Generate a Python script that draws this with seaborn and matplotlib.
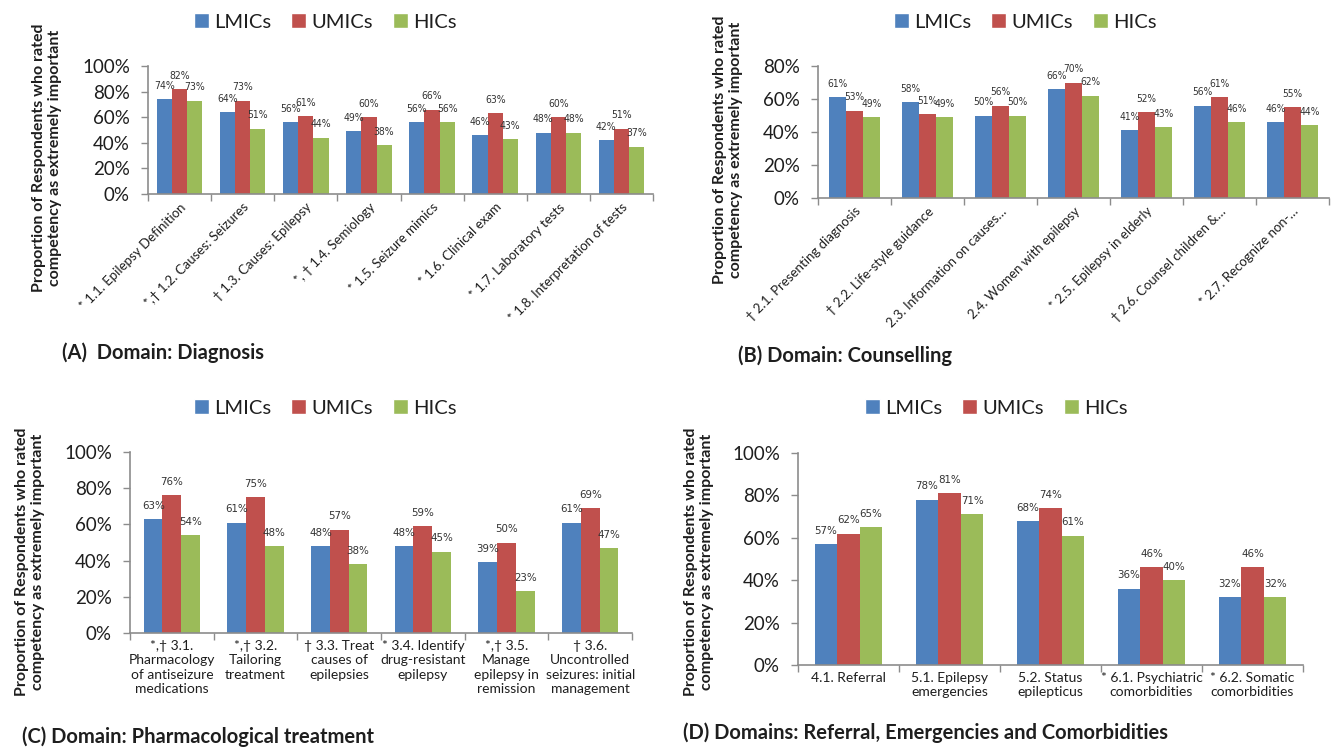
import matplotlib
matplotlib.use("Agg")
import matplotlib.pyplot as plt
from matplotlib.patches import Patch
from matplotlib.ticker import PercentFormatter, FixedLocator
import seaborn as sns
import pandas as pd
import numpy as np

sns.set_theme(style="white")
plt.rcParams["font.family"] = ["Lato", "DejaVu Sans"]

# ---- data -------------------------------------------------------------
groups = ["LMICs", "UMICs", "HICs"]
colors = ["#4F81BD", "#C0504D", "#9BBB59"]

diag_labels = ["* 1.1. Epilepsy Definition", "*,\u2020 1.2. Causes: Seizures",
               "\u2020 1.3. Causes: Epilepsy", "*, \u2020 1.4. Semiology",
               "* 1.5. Seizure mimics", "* 1.6. Clinical exam",
               "* 1.7. Laboratory tests", "* 1.8. Interpretation of tests"]
diag_lmic = [74, 64, 56, 49, 56, 46, 48, 42]
diag_umic = [82, 73, 61, 60, 66, 63, 60, 51]
diag_hic = [73, 51, 44, 38, 56, 43, 48, 37]

couns_labels = ["\u2020 2.1. Presenting diagnosis", "\u2020 2.2. Life-style guidance",
                "2.3. Information on causes\u2026", "2.4. Women with epilepsy",
                "* 2.5. Epilepsy in elderly", "\u2020 2.6. Counsel children &\u2026",
                "* 2.7. Recognize non-\u2026"]
couns_lmic = [61, 58, 50, 66, 41, 56, 46]
couns_umic = [53, 51, 56, 70, 52, 61, 55]
couns_hic = [49, 49, 50, 62, 43, 46, 44]

pharm_labels = ["*,\u2020 3.1.\nPharmacology\nof antiseizure\nmedications",
                "*,\u2020 3.2.\nTailoring\ntreatment",
                "\u2020 3.3. Treat\ncauses of\nepilepsies",
                "* 3.4. Identify\ndrug-resistant\nepilepsy",
                "*,\u2020 3.5.\nManage\nepilepsy in\nremission",
                "\u2020 3.6.\nUncontrolled\nseizures: initial\nmanagement"]
pharm_lmic = [63, 61, 48, 48, 39, 61]
pharm_umic = [76, 75, 57, 59, 50, 69]
pharm_hic = [54, 48, 38, 45, 23, 47]

ref_labels = ["4.1. Referral", "5.1. Epilepsy\nemergencies", "5.2. Status\nepilepticus",
              "* 6.1. Psychiatric\ncomorbidities", "* 6.2. Somatic\ncomorbidities"]
ref_lmic = [57, 78, 68, 36, 32]
ref_umic = [62, 81, 74, 46, 46]
ref_hic = [65, 71, 61, 40, 32]

ylabel_text = "Proportion of Respondents who rated\ncompetency as extremely important"

# ---- figure -----------------------------------------------------------
W, H = 1338, 747
fig = plt.figure(figsize=(W / 100, H / 100), dpi=100, facecolor="white")
AXIS_GREY = "#8C8C8C"
TEXT = "#1E1E1E"


def px_rect(left, right, bottom, top):
    return [left / W, 1 - bottom / H, (right - left) / W, (bottom - top) / H]


def panel(rect, labels, lmic, umic, hic, ymax, rotated, width,
          legend_xy, ylabel_xy, title, title_xy, cat_size, value_size):
    ax = fig.add_axes(px_rect(*rect))
    df = pd.DataFrame({
        "competency": labels * 3,
        "income": [g for g in groups for _ in labels],
        "share": np.array(lmic + umic + hic, dtype=float) / 100,
    })
    sns.barplot(data=df, x="competency", y="share", hue="income",
                hue_order=groups, palette=colors, saturation=1,
                width=width, errorbar=None, legend=False, linewidth=0, ax=ax)

    # percentage above every bar, in a condensed face
    for cont in ax.containers:
        vals = [b.get_height() for b in cont]
        ax.bar_label(cont, labels=[f"{round(v * 100):d}%" for v in vals],
                     padding=6, fontsize=value_size, color="#333333",
                     family="DejaVu Sans", fontstretch="condensed")

    n = len(labels)
    ax.set_xlim(-0.5, n - 0.5)
    ax.set_ylim(0, ymax)
    ax.yaxis.set_major_locator(FixedLocator(np.arange(0, ymax + 0.001, 0.2)))
    ax.yaxis.set_major_formatter(PercentFormatter(1.0, decimals=0))
    ax.set_xlabel("")
    ax.set_ylabel("")

    # category tick marks sit on the boundaries between groups
    ax.xaxis.set_minor_locator(FixedLocator(np.arange(-0.5, n, 1.0)))
    ax.tick_params(axis="x", which="major", length=0, pad=5, labelsize=cat_size,
                   labelcolor=TEXT)
    ax.tick_params(axis="x", which="minor", length=5, width=1, color=AXIS_GREY,
                   direction="out", bottom=True)
    ax.tick_params(axis="y", which="major", length=5, width=1, color=AXIS_GREY,
                   direction="out", left=True, labelsize=13.5, labelcolor=TEXT, pad=8)

    ax.set_xticks(range(n))
    if rotated:
        ax.set_xticklabels(labels, rotation=45, ha="right", rotation_mode="anchor")
    else:
        ax.set_xticklabels(labels, linespacing=1.25)

    for side in ("top", "right"):
        ax.spines[side].set_visible(False)
    for side in ("left", "bottom"):
        ax.spines[side].set_color(AXIS_GREY)
        ax.spines[side].set_linewidth(1.2)

    handles = [Patch(facecolor=c, label=g) for c, g in zip(colors, groups)]
    fig.legend(handles=handles, loc="center", ncol=3, frameon=False,
               bbox_to_anchor=(legend_xy[0] / W, 1 - legend_xy[1] / H),
               fontsize=14.5, handlelength=0.75, handleheight=0.75,
               handletextpad=0.25, columnspacing=1.0, labelcolor=TEXT)

    fig.text(ylabel_xy[0] / W, 1 - ylabel_xy[1] / H, ylabel_text, rotation=90,
             ha="center", va="center", multialignment="center",
             fontsize=11.5, fontweight="bold", color=TEXT, linespacing=1.15)

    fig.text(title_xy[0] / W, 1 - title_xy[1] / H, title, ha="left", va="center",
             fontsize=14.5, fontweight="bold", color=TEXT)
    return ax


panel((148, 653, 194, 66), diag_labels, diag_lmic, diag_umic, diag_hic,
      1.0, True, 0.72, (325, 22), (47, 158), "(A)  Domain: Diagnosis", (62, 353), 9.5, 7.5)
panel((818, 1329, 198, 66), couns_labels, couns_lmic, couns_umic, couns_hic,
      0.8, True, 0.71, (1025, 22), (728, 150), "(B) Domain: Counselling", (738, 356), 9.5, 7.3)
panel((130, 632, 633, 452), pharm_labels, pharm_lmic, pharm_umic, pharm_hic,
      1.0, False, 0.67, (325, 408), (30, 562), "(C) Domain: Pharmacological treatment",
      (22, 737), 10, 8.2)
panel((798, 1303, 665, 453), ref_labels, ref_lmic, ref_umic, ref_hic,
      1.0, False, 0.67, (996, 408), (699, 562),
      "(D) Domains: Referral, Emergencies and Comorbidities", (683, 733), 10, 8.2)

fig.savefig("out.png", dpi=100, facecolor="white")
